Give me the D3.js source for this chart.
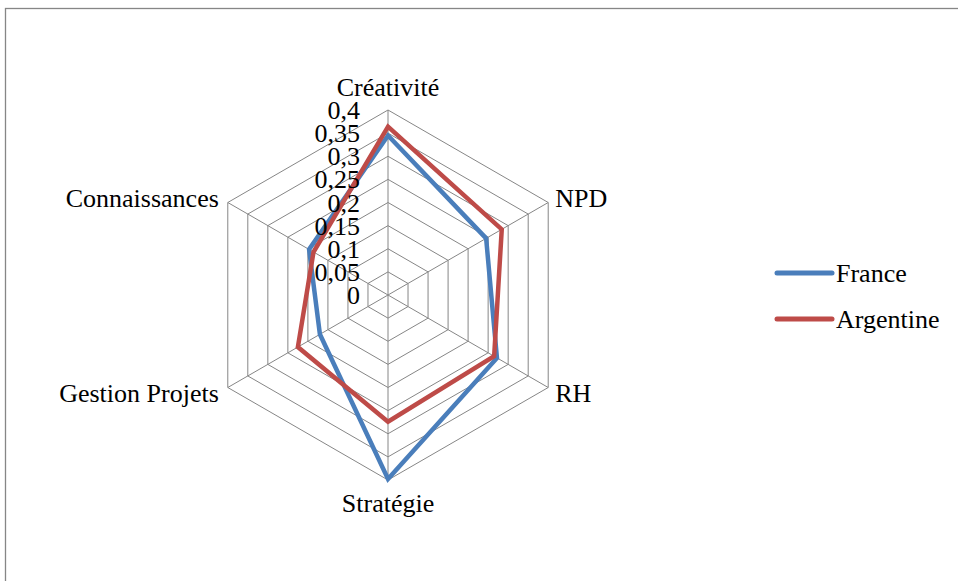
<!DOCTYPE html>
<html>
<head>
<meta charset="utf-8">
<script src="https://cdn.jsdelivr.net/npm/d3@7"></script>
<style>
  body { margin: 0; background: #fff; }
  svg text { font-family: "Liberation Serif", serif; }
</style>
</head>
<body>
<div id="chart"></div>
<script>
// data
const axes = ["Créativité", "NPD", "RH", "Stratégie", "Gestion Projets", "Connaissances"];
const france = [0.345, 0.245, 0.272, 0.398, 0.17, 0.197];
const argentine = [0.364, 0.284, 0.265, 0.274, 0.225, 0.186];
const ticks = [0, 0.05, 0.1, 0.15, 0.2, 0.25, 0.3, 0.35, 0.4];
const tickLabels = ["0", "0,05", "0,1", "0,15", "0,2", "0,25", "0,3", "0,35", "0,4"];
const seriesNames = ["France", "Argentine"];
const colors = ["#4A7EBB", "#BE4B48"];

const W = 958, H = 581;
const cx = 388, cy = 295, R = 185;
const FONT = "Liberation Serif";
const FS = 26;

const svg = d3.select("#chart").append("svg")
  .attr("width", W).attr("height", H);

// chart border
svg.append("rect")
  .attr("x", 5.5).attr("y", 8.5)
  .attr("width", 980).attr("height", 600)
  .attr("fill", "none").attr("stroke", "#868686").attr("stroke-width", 1.3);

const g = svg.append("g").attr("transform", `translate(${cx},${cy})`);

const r = d3.scaleLinear().domain([0, 0.4]).range([0, R]);
const ang = d3.scalePoint().domain(axes.concat(["_end"])).range([0, 2 * Math.PI]);

const pt = (a, v) => [r(v) * Math.sin(ang(a)), -r(v) * Math.cos(ang(a))];

// grid rings
g.selectAll(".ring").data(ticks.slice(1)).join("polygon")
  .attr("points", t => axes.map(a => pt(a, t).join(",")).join(" "))
  .attr("fill", "none").attr("stroke", "#868686").attr("stroke-width", 1);

// spokes
g.selectAll(".spoke").data(axes).join("line")
  .attr("x1", 0).attr("y1", 0)
  .attr("x2", a => pt(a, 0.4)[0]).attr("y2", a => pt(a, 0.4)[1])
  .attr("stroke", "#868686").attr("stroke-width", 1);

// series
const line = d3.lineRadial()
  .angle((d, i) => ang(axes[i]))
  .radius(d => r(d))
  .curve(d3.curveLinearClosed);

[france, argentine].forEach((s, i) => {
  g.append("path")
    .attr("d", line(s))
    .attr("fill", "none")
    .attr("stroke", colors[i])
    .attr("stroke-width", 4.5)
    .attr("stroke-linejoin", "miter");
});

// tick labels
g.selectAll(".tick").data(ticks).join("text")
  .attr("x", -28).attr("y", t => -r(t) + 9)
  .attr("text-anchor", "end")
  .attr("font-family", FONT)
  .attr("font-size", FS)
  .text((t, i) => tickLabels[i]);

// axis labels (baseline offsets from the outer vertex)
const labelPos = [
  { dx: 0, dy: -14, anchor: "middle" },
  { dx: 7, dy: 4, anchor: "start" },
  { dx: 7, dy: 14, anchor: "start" },
  { dx: 0, dy: 32, anchor: "middle" },
  { dx: -9, dy: 14, anchor: "end" },
  { dx: -9, dy: 4, anchor: "end" }
];
g.selectAll(".axlabel").data(axes).join("text")
  .attr("x", (a, i) => pt(a, 0.4)[0] + labelPos[i].dx)
  .attr("y", (a, i) => pt(a, 0.4)[1] + labelPos[i].dy)
  .attr("text-anchor", (a, i) => labelPos[i].anchor)
  .attr("font-family", FONT)
  .attr("font-size", FS)
  .text(a => a);

// legend
const leg = svg.append("g").attr("transform", "translate(777,273)");
seriesNames.forEach((n, i) => {
  const row = leg.append("g").attr("transform", `translate(0,${i * 46})`);
  row.append("line").attr("x1", 0).attr("x2", 55).attr("y1", 0).attr("y2", 0)
    .attr("stroke", colors[i]).attr("stroke-width", 5).attr("stroke-linecap", "round");
  row.append("text").attr("x", 59).attr("y", 9)
    .attr("font-family", FONT)
    .attr("font-size", FS).text(n);
});
</script>
</body>
</html>
